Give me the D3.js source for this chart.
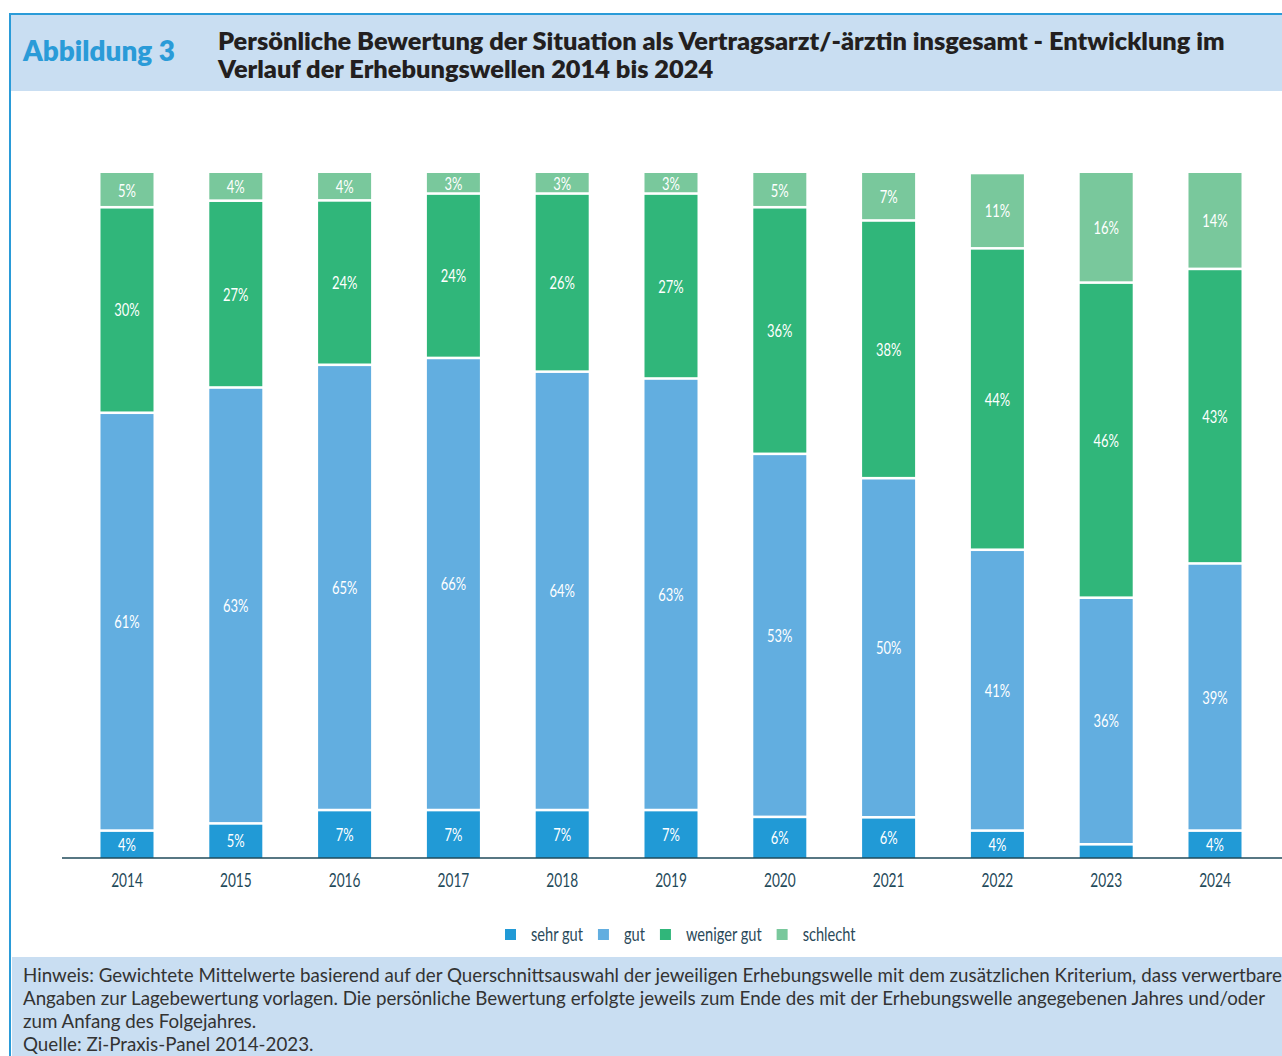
<!DOCTYPE html>
<html>
<head>
<meta charset="utf-8">
<script src="https://cdn.jsdelivr.net/npm/d3@7"></script>
<style>
  html, body { margin: 0; padding: 0; background: #fff; }
  svg { display: block; }
</style>
</head>
<body>
<svg id="chart" width="1282" height="1056"></svg>
<script>
// ---- data ----
const years = ["2014","2015","2016","2017","2018","2019","2020","2021","2022","2023","2024"];
const seriesNames = ["sehr gut", "gut", "weniger gut", "schlecht"];
const sehrGut    = [4, 5, 7, 7, 7, 7, 6, 6, 4, 2, 4];
const gut        = [61, 63, 65, 66, 64, 63, 53, 50, 41, 36, 39];
const wenigerGut = [30, 27, 24, 24, 26, 27, 36, 38, 44, 46, 43];
const schlecht   = [5, 4, 4, 3, 3, 3, 5, 7, 11, 16, 14];
const colors = ["#219ad6", "#62aee0", "#30b67a", "#79c89c"];

const figLabel = "Abbildung 3";
const titleLines = [
  "Persönliche Bewertung der Situation als Vertragsarzt/-ärztin insgesamt - Entwicklung im",
  "Verlauf der Erhebungswellen 2014 bis 2024"
];
const noteLines = [
  "Hinweis: Gewichtete Mittelwerte basierend auf der Querschnittsauswahl der jeweiligen Erhebungswelle mit dem zusätzlichen Kriterium, dass verwertbare",
  "Angaben zur Lagebewertung vorlagen. Die persönliche Bewertung erfolgte jeweils zum Ende des mit der Erhebungswelle angegebenen Jahres und/oder",
  "zum Anfang des Folgejahres.",
  "Quelle: Zi-Praxis-Panel 2014-2023."
];

// ---- build table ----
const table = years.map((y, i) => ({
  year: y,
  "sehr gut": sehrGut[i],
  "gut": gut[i],
  "weniger gut": wenigerGut[i],
  "schlecht": schlecht[i]
}));

const svg = d3.select("#chart");
const textFont = "'Lato', 'Open Sans', sans-serif";
const narrow = 0.72;   // horizontal compression to imitate a condensed face
const narrowLeg = 0.77;

// frame
svg.append("rect").attr("x", 11).attr("y", 15).attr("width", 1271).attr("height", 76).attr("fill", "#c9def2");
svg.append("rect").attr("x", 12).attr("y", 957).attr("width", 1270).attr("height", 99).attr("fill", "#c9def2");
svg.append("rect").attr("x", 9).attr("y", 13).attr("width", 1273).attr("height", 2).attr("fill", "#2a9bd8");
svg.append("rect").attr("x", 9).attr("y", 13).attr("width", 2).attr("height", 1043).attr("fill", "#2a9bd8");

// header
const fig = svg.append("text").attr("x", 23).attr("y", 61)
  .attr("font-family", textFont).attr("font-weight", 800).attr("font-size", 24)
  .attr("fill", "#2a9bd8").text(figLabel);
{
  const w = fig.node().getComputedTextLength();
  fig.attr("font-size", 24 * 152 / w);
}

const titleG = svg.append("g").attr("font-family", textFont).attr("font-weight", 800).attr("fill", "#231f20");
const t1 = titleG.selectAll("text").data(titleLines).join("text")
  .attr("x", 218).attr("y", (d, i) => 50 + i * 28)
  .attr("font-size", 21).text(d => d);
{
  const w = t1.nodes()[0].getComputedTextLength();
  t1.attr("font-size", 21 * 1007 / w);
}

// scales
const step = 108.8, pInner = 1 - 53 / step, pOuter = 0.5;
const r0 = 100.5 - pOuter * step;
const r1 = r0 + step * (years.length - pInner + 2 * pOuter);
const x = d3.scaleBand().domain(years).range([r0, r1]).paddingInner(pInner).paddingOuter(pOuter);
const y = d3.scaleLinear().domain([0, 1]).range([858, 173]);

const stack = d3.stack().keys(seriesNames).offset(d3.stackOffsetExpand);
const series = stack(table);

const gap = 1.3;
const layers = svg.append("g").selectAll("g").data(series).join("g")
  .attr("fill", (d, i) => colors[i]);

layers.selectAll("rect").data(d => d.map(p => ({p, key: d.key}))).join("rect")
  .attr("x", d => x(d.p.data.year))
  .attr("width", x.bandwidth())
  .attr("y", d => y(d.p[1]) + (d.p[1] >= 1 ? 0 : gap))
  .attr("height", d => Math.max(0, y(d.p[0]) - y(d.p[1]) - (d.p[1] >= 1 ? 0 : gap) - (d.p[0] <= 0 ? 0 : gap)));

layers.selectAll("text").data(d => d.map(p => ({p, key: d.key}))).join("text")
  .filter(d => d.p.data[d.key] >= 3)
  .attr("transform", d => `translate(${x(d.p.data.year) + x.bandwidth() / 2},${(y(d.p[0]) + y(d.p[1])) / 2}) scale(${narrow},1)`)
  .attr("dy", "0.36em")
  .attr("text-anchor", "middle")
  .attr("font-family", textFont).attr("font-weight", 400).attr("font-size", 18)
  .attr("fill", "#ffffff")
  .text(d => d.p.data[d.key] + "%");

// axis
const axis = d3.axisBottom(x).tickSize(0).tickPadding(16);
const axG = svg.append("g").attr("transform", "translate(0,858)").call(axis);
axG.select(".domain").remove();
axG.append("line").attr("x1", 62).attr("x2", 1282).attr("y1", 0).attr("y2", 0)
  .attr("stroke", "#1f4a5a").attr("stroke-width", 1.5);
axG.selectAll(".tick text").attr("font-family", textFont).attr("font-weight", 400).attr("font-size", 19)
  .attr("fill", "#1f4a5a").attr("transform", `scale(${narrow},1)`);

// legend
const legG = svg.append("g").attr("font-family", textFont).attr("font-weight", 400).attr("font-size", 19).attr("fill", "#2b4a5a");
let lx = 505;
seriesNames.forEach((name, i) => {
  legG.append("rect").attr("x", lx).attr("y", 929).attr("width", 11).attr("height", 11).attr("fill", colors[i]);
  const t = legG.append("text").attr("transform", `translate(${lx + 26},941) scale(${narrowLeg},1)`).text(name);
  lx += 26 + t.node().getComputedTextLength() * narrowLeg + 15;
});

// note
const noteG = svg.append("g").attr("font-family", textFont).attr("fill", "#333333");
const nt = noteG.selectAll("text").data(noteLines).join("text")
  .attr("x", 23).attr("y", (d, i) => 982 + i * 23)
  .attr("font-size", 16).text(d => d);
{
  const w = nt.nodes()[0].getComputedTextLength();
  nt.attr("font-size", 16 * 1259 / w);
}
</script>
</body>
</html>
